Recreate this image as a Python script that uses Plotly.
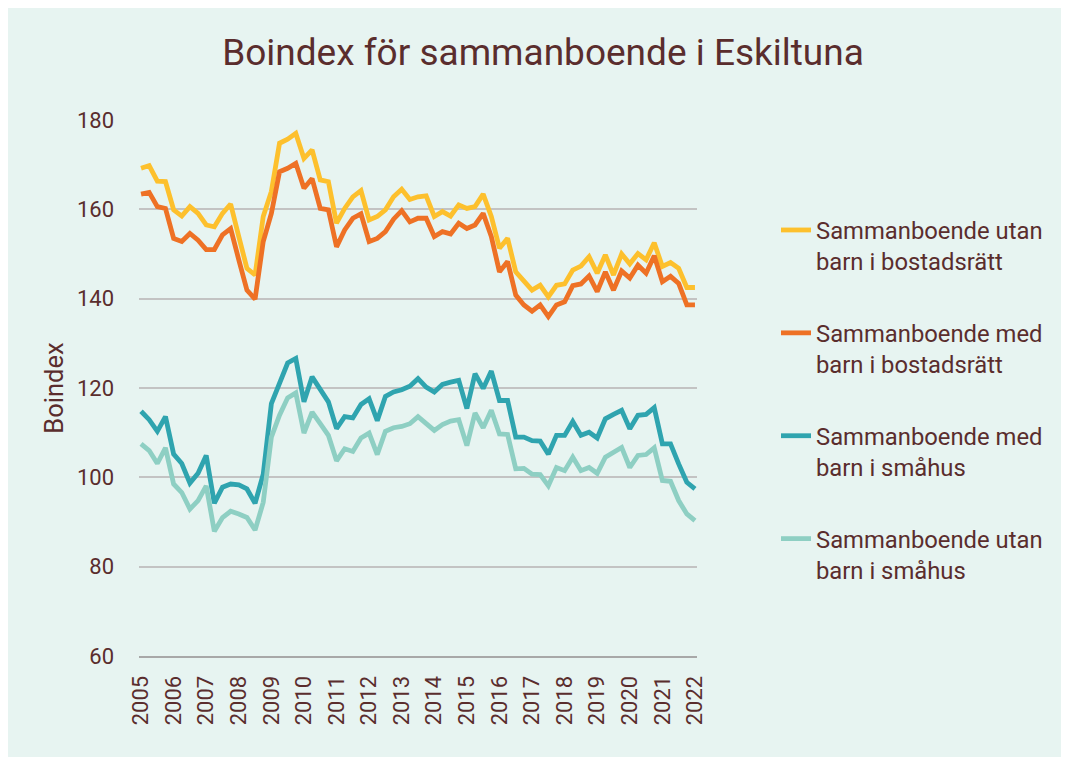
import plotly.graph_objects as go

years = list(range(2005, 2023))
quarters = []
for y in years:
    for q in range(1, 5):
        if y == 2022 and q > 1:
            break
        quarters.append(f"{y} K{q}")

utan_bostadsratt = [169.2, 169.8, 166.3, 166.2, 159.9, 158.5, 160.6, 159.1, 156.5, 156.1,
                    159.1, 161.2, 153.9, 146.8, 145.3, 158.4, 164.0, 174.8, 175.7, 177.0,
                    171.4, 173.3, 166.6, 166.2, 156.9, 160.2, 162.8, 164.2, 157.6, 158.4,
                    159.9, 162.8, 164.5, 162.2, 162.8, 163.0, 158.4, 159.5, 158.5, 161.0,
                    160.2, 160.6, 163.4, 158.4, 151.3, 153.5, 146.0, 143.8, 141.9, 143.0,
                    140.4, 143.0, 143.3, 146.4, 147.3, 149.4, 145.7, 149.8, 145.3, 150.0,
                    147.8, 150.1, 148.7, 152.5, 147.2, 148.1, 146.8, 142.5, 142.5]
med_bostadsratt = [163.4, 163.8, 160.6, 160.2, 153.5, 152.8, 154.6, 153.1, 151.0, 151.0,
                   154.3, 155.7, 148.7, 141.9, 139.9, 152.8, 159.1, 168.4, 169.2, 170.3,
                   164.7, 166.9, 160.2, 159.9, 151.6, 155.4, 158.0, 159.0, 152.8, 153.5,
                   155.0, 157.8, 159.7, 157.2, 158.0, 158.0, 153.9, 155.0, 154.5, 156.9,
                   155.7, 156.5, 159.1, 153.9, 146.0, 148.3, 140.8, 138.6, 137.2, 138.6,
                   136.0, 138.6, 139.3, 142.9, 143.3, 145.1, 141.6, 146.0, 141.9, 146.2,
                   144.6, 147.5, 145.7, 149.6, 143.8, 145.0, 143.4, 138.6, 138.6]
med_smahus = [114.8, 112.9, 110.3, 113.6, 105.2, 103.1, 98.7, 100.9, 104.9, 94.2,
              97.8, 98.5, 98.3, 97.4, 94.2, 100.7, 116.5, 121.0, 125.6, 126.6,
              116.9, 122.5, 119.6, 116.9, 110.9, 113.6, 113.3, 116.3, 117.6, 112.7,
              118.1, 119.1, 119.6, 120.4, 122.1, 120.2, 119.1, 120.8, 121.3, 121.7,
              115.4, 123.2, 119.9, 123.8, 117.2, 117.2, 109.0, 109.0, 108.2, 108.1,
              105.2, 109.4, 109.4, 112.5, 109.4, 110.1, 108.8, 113.1, 114.1, 115.0,
              110.9, 113.9, 114.1, 115.6, 107.5, 107.5, 103.0, 98.9, 97.4]
utan_smahus = [107.5, 106.0, 103.1, 106.6, 98.5, 96.6, 92.9, 94.8, 98.1, 87.9,
               91.0, 92.4, 91.8, 91.0, 88.2, 94.4, 109.0, 113.9, 117.8, 118.9,
               109.9, 114.6, 112.0, 109.4, 103.7, 106.4, 105.8, 108.8, 109.9, 105.1,
               110.3, 111.1, 111.4, 112.0, 113.6, 112.0, 110.5, 111.8, 112.6, 112.9,
               107.1, 114.4, 111.1, 115.0, 109.7, 109.6, 101.9, 102.0, 100.7, 100.6,
               98.1, 102.2, 101.5, 104.5, 101.5, 102.2, 100.9, 104.5, 105.6, 106.7,
               102.2, 104.9, 105.1, 106.6, 99.3, 99.1, 94.8, 91.8, 90.3]

series_names = ["Sammanboende utan<br>barn i bostadsrätt",
                "Sammanboende med<br>barn i bostadsrätt",
                "Sammanboende med<br>barn i småhus",
                "Sammanboende utan<br>barn i småhus"]
series_values = [utan_bostadsratt, med_bostadsratt, med_smahus, utan_smahus]
series_colors = ["#FDC02D", "#EE7125", "#2FA4AF", "#8ECFC3"]

tick_vals = [f"{y} K1" for y in years]
tick_text = [str(y) for y in years]

TEXT = "#5A2D2D"
BG = "#E7F4F1"

fig = go.Figure()
for i, (name, vals, col) in enumerate(zip(series_names, series_values, series_colors)):
    fig.add_trace(go.Scatter(
        x=quarters, y=vals, name=name, mode="lines",
        line=dict(color=col, width=4.8),
        legendgroup=f"g{i}",
    ))

W, H = 1069, 757
L, T = 131, 112
R = W - 689
B = H - 648
pw, ph = W - L - R, H - T - B

def px2x(px):
    return (px - L) / pw

def py2y(py):
    return (H - B - py) / ph

fig.update_layout(
    width=W, height=H,
    margin=dict(l=L, r=R, t=T, b=B),
    paper_bgcolor=BG,
    plot_bgcolor=BG,
    font=dict(family="Roboto", color=TEXT, size=22),
    title=dict(text="Boindex för sammanboende i Eskiltuna",
               x=(535 - L) / pw, xanchor="center", xref="paper",
               y=1 - 44 / H, yanchor="middle", yref="container",
               font=dict(size=37, color=TEXT, family="Roboto")),
    showlegend=True,
    legend=dict(x=px2x(768), xanchor="left", y=py2y(200), yanchor="top",
                valign="top", tracegroupgap=38, traceorder="grouped",
                font=dict(size=23.8, color=TEXT, family="Roboto"),
                bgcolor="rgba(0,0,0,0)"),
)

fig.update_xaxes(
    type="category", categoryorder="array", categoryarray=quarters,
    range=[-0.25, len(quarters) - 0.75],
    tickmode="array", tickvals=tick_vals, ticktext=tick_text,
    tickangle=-90, ticks="", ticklabelstandoff=9,
    showgrid=False, showline=True, linecolor="#A8A8A8", linewidth=2,
    zeroline=False, tickfont=dict(size=22, color=TEXT),
)
fig.update_yaxes(
    range=[60, 180], dtick=20, tick0=60,
    showgrid=True, gridcolor="#C3C3C3", gridwidth=2,
    zeroline=False, showline=False, ticks="",
    ticklabelstandoff=24, tickfont=dict(size=22, color=TEXT),
    title=dict(text="Boindex", font=dict(size=25.5, color=TEXT), standoff=5),
)

fig.write_html("out.html")
